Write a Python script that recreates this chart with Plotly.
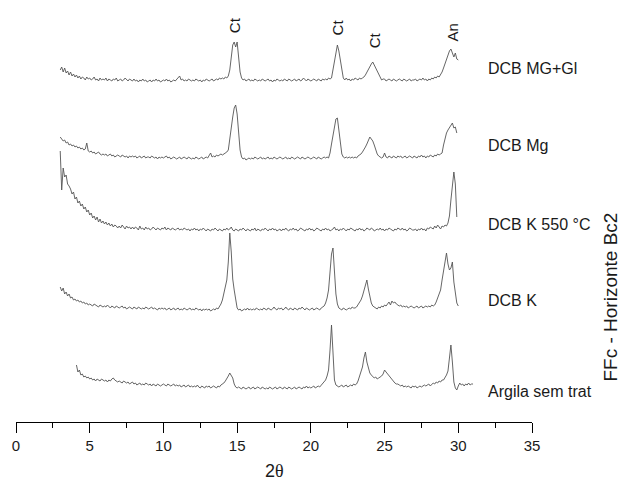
import numpy as np
import plotly.graph_objects as go

# 2-theta sampling: start angle and step (0.1 deg) for each pattern
step = 0.1
series_names = ["DCB MG+Gl", "DCB Mg", "DCB K 550 °C", "DCB K", "Argila sem trat"]
x_start = [3.0, 3.0, 3.0, 3.0, 4.1]

# intensities (arbitrary units, already vertically offset as in the figure)
mg_gl = [
    352, 355, 350, 354, 349, 351, 347, 350, 346, 348,
    345, 347, 344, 346, 343, 345, 344, 342, 345, 343,
    344, 342, 343, 345, 342, 343, 341, 344, 342, 343,
    342, 344, 341, 343, 342, 341, 343, 342, 344, 341,
    342, 343, 341, 342, 344, 342, 341, 343, 342, 341,
    343, 341, 342, 340, 342, 341, 343, 341, 342, 340,
    341, 342, 340, 342, 341, 343, 341, 342, 340, 341,
    342, 341, 343, 341, 342, 340, 341, 342, 341, 343,
    344, 346, 342, 343, 341, 342, 341, 343, 342, 341,
    342, 341, 343, 342, 341, 342, 340, 342, 341, 343,
    342, 341, 342, 343, 341, 342, 343, 342, 344, 343,
    344, 343, 345, 344, 346, 352, 366, 377, 380, 375,
    380, 362, 350, 344, 342, 343, 341, 342, 343, 341,
    342, 341, 343, 342, 341, 342, 341, 343, 342, 341,
    342, 343, 341, 342, 340, 342, 341, 343, 342, 341,
    342, 341, 343, 342, 341, 343, 342, 341, 342, 343,
    341, 342, 343, 341, 342, 344, 342, 341, 343, 342,
    341, 342, 343, 342, 341, 343, 342, 341, 343, 342,
    343, 342, 344, 343, 344, 352, 362, 372, 377, 371,
    362, 352, 344, 342, 344, 342, 343, 341, 343, 342,
    344, 343, 342, 344, 343, 344, 345, 347, 350, 352,
    355, 358, 360, 357, 354, 350, 347, 344, 342, 343,
    343, 341, 342, 343, 342, 341, 343, 342, 341, 342,
    343, 342, 341, 343, 342, 341, 342, 343, 341, 342,
    342, 343, 341, 342, 343, 342, 344, 342, 343, 341,
    343, 342, 344, 343, 345, 344, 346, 345, 347, 350,
    354, 358, 362, 368, 371, 373, 369, 365, 369, 363,
    362,
]

mg = [
    285, 283, 281, 282, 279, 280, 277, 278, 276, 277,
    275, 276, 274, 275, 273, 274, 272, 273, 279, 271,
    270, 271, 269, 270, 268, 269, 270, 268, 267, 268,
    267, 268, 266, 267, 268, 266, 267, 265, 266, 267,
    266, 265, 267, 266, 265, 266, 264, 266, 265, 266,
    265, 266, 264, 265, 266, 264, 265, 266, 264, 265,
    265, 264, 266, 265, 264, 265, 263, 265, 264, 265,
    264, 265, 266, 264, 265, 263, 264, 265, 264, 263,
    264, 265, 263, 264, 265, 264, 263, 265, 264, 263,
    264, 263, 265, 264, 263, 264, 265, 263, 264, 265,
    264, 266, 269, 265, 266, 265, 267, 266, 267, 268,
    267, 268, 269, 270, 272, 285, 295, 305, 314, 317,
    308, 288, 272, 265, 263, 264, 262, 263, 264, 263,
    264, 263, 265, 264, 263, 264, 265, 263, 264, 263,
    264, 265, 263, 264, 263, 265, 264, 263, 264, 265,
    264, 263, 264, 265, 263, 264, 263, 265, 264, 263,
    264, 265, 264, 263, 265, 264, 263, 264, 265, 264,
    263, 264, 265, 264, 263, 265, 264, 263, 264, 265,
    264, 265, 264, 269, 278, 288, 297, 303, 304, 291,
    278, 268, 265, 264, 265, 264, 265, 264, 265, 264,
    265, 264, 266, 267, 268, 270, 272, 275, 278, 281,
    285, 283, 281, 277, 272, 268, 266, 265, 264, 265,
    269, 265, 264, 266, 265, 264, 266, 265, 264, 266,
    265, 266, 264, 265, 266, 264, 265, 266, 265, 264,
    266, 265, 264, 266, 265, 267, 265, 266, 264, 266,
    265, 267, 266, 265, 267, 266, 268, 267, 268, 269,
    277, 284, 289, 292, 294, 296, 299, 294, 295, 289,
]

k550 = [
    271, 232, 254, 245, 247, 238, 236, 233, 228, 230,
    223, 225, 219, 221, 216, 218, 213, 215, 210, 212,
    207, 209, 204, 206, 202, 205, 200, 203, 199, 201,
    198, 200, 197, 199, 196, 198, 195, 197, 196, 194,
    196, 194, 197, 195, 193, 196, 194, 195, 193, 195,
    193, 195, 194, 192, 196, 193, 194, 192, 195, 193,
    194, 192, 193, 195, 193, 192, 194, 193, 192, 194,
    193, 195, 192, 194, 193, 192, 194, 193, 192, 193,
    194, 192, 193, 192, 194, 193, 192, 193, 191, 193,
    192, 194, 192, 193, 191, 193, 192, 194, 192, 191,
    193, 192, 191, 193, 192, 194, 192, 191, 193, 192,
    191, 193, 192, 194, 192, 193, 195, 192, 191, 193,
    192, 191, 193, 192, 194, 192, 191, 193, 192, 191,
    193, 192, 194, 191, 193, 192, 191, 193, 192, 194,
    192, 191, 193, 192, 194, 192, 193, 191, 192, 193,
    191, 193, 192, 194, 192, 191, 193, 192, 194, 192,
    193, 191, 192, 194, 193, 192, 191, 193, 192, 194,
    192, 193, 191, 192, 194, 193, 192, 191, 193, 192,
    194, 192, 193, 191, 192, 193, 195, 192, 193, 191,
    193, 192, 194, 192, 191, 193, 192, 194, 193, 192,
    191, 193, 192, 194, 192, 193, 191, 192, 194, 193,
    192, 194, 193, 191, 192, 193, 192, 194, 192, 193,
    191, 193, 192, 194, 193, 192, 191, 193, 192, 194,
    193, 192, 194, 192, 193, 191, 192, 194, 193, 192,
    192, 193, 191, 193, 192, 194, 192, 193, 191, 194,
    193, 195, 194, 193, 196, 194, 197, 195, 193, 196,
    195, 197, 196, 199, 206, 222, 240, 250, 238, 205,
]

k = [
    135, 131, 134, 128, 130, 126, 128, 124, 125, 122,
    123, 121, 122, 120, 121, 119, 120, 118, 119, 117,
    118, 117, 116, 118, 117, 116, 115, 117, 116, 115,
    116, 115, 117, 115, 114, 116, 115, 114, 116, 115,
    114, 115, 116, 114, 115, 113, 114, 115, 114, 113,
    115, 114, 113, 115, 114, 113, 114, 113, 115, 114,
    113, 114, 115, 113, 114, 113, 112, 114, 113, 114,
    113, 114, 112, 113, 114, 112, 113, 114, 112, 113,
    114, 112, 113, 112, 114, 113, 112, 113, 114, 112,
    113, 112, 114, 113, 112, 113, 111, 113, 112, 113,
    112, 113, 111, 112, 113, 112, 114, 113, 115, 118,
    122, 128, 135, 142, 160, 189, 170, 143, 132, 120,
    114, 112, 113, 111, 112, 113, 112, 114, 112, 113,
    112, 113, 112, 114, 113, 112, 113, 112, 114, 113,
    112, 114, 113, 112, 113, 115, 113, 112, 114, 113,
    114, 112, 113, 115, 113, 112, 114, 113, 112, 114,
    113, 112, 114, 113, 115, 113, 112, 114, 113, 112,
    113, 114, 112, 113, 114, 113, 112, 114, 115, 116,
    119, 124, 132, 155, 168, 174, 150, 128, 118, 114,
    113, 112, 114, 113, 112, 113, 114, 113, 115, 114,
    114, 115, 117, 119, 122, 126, 131, 136, 142, 133,
    126, 119, 116, 115, 114, 113, 115, 114, 116, 115,
    117, 116, 118, 120, 117, 121, 119, 120, 118, 117,
    116, 117, 115, 116, 115, 116, 114, 115, 116, 115,
    114, 115, 116, 114, 115, 116, 114, 115, 116, 115,
    116, 115, 117, 116, 117, 120, 124, 128, 132, 142,
    152, 164, 169, 158, 152, 154, 160, 140, 126, 119,
    116,
]

argila = [
    57, 50, 52, 47, 48, 45, 46, 44, 45,
    43, 44, 42, 43, 41, 43, 42, 41, 43, 42,
    41, 42, 40, 42, 41, 43, 44, 42, 41, 40,
    41, 40, 39, 41, 40, 39, 40, 38, 39, 40,
    38, 39, 37, 38, 39, 37, 38, 37, 39, 38,
    37, 38, 36, 38, 37, 36, 38, 37, 36, 37,
    38, 37, 36, 38, 37, 36, 37, 38, 36, 37,
    36, 37, 35, 36, 37, 35, 36, 37, 35, 36,
    35, 36, 35, 37, 35, 34, 36, 35, 34, 36,
    35, 36, 34, 35, 36, 35, 34, 36, 35, 37,
    38, 39, 41, 43, 46, 49, 47, 44, 38, 35,
    34, 35, 34, 33, 35, 34, 33, 34, 35, 33,
    34, 35, 33, 34, 35, 34, 33, 35, 34, 33,
    34, 33, 35, 34, 33, 34, 35, 33, 34, 35,
    34, 33, 35, 34, 33, 35, 34, 33, 34, 35,
    33, 34, 35, 34, 33, 35, 34, 36, 34, 35,
    34, 35, 36, 34, 35, 36, 35, 37, 38, 40,
    42, 46, 52, 72, 97, 70, 42, 37, 36, 35,
    36, 37, 35, 36, 37, 35, 36, 37, 36, 38,
    37, 38, 41, 45, 50, 55, 64, 70, 60, 54,
    49, 47, 45, 44, 45, 43, 44, 45, 46, 48,
    52, 50, 48, 47, 44, 42, 40, 39, 38, 38,
    37, 36, 37, 35, 36, 35, 36, 35, 34, 36,
    35, 36, 34, 35, 36, 35, 36, 37, 36, 37,
    38, 36, 38, 39, 38, 40, 39, 41, 40, 42,
    42, 44, 47, 51, 62, 77, 60, 40, 34, 32,
    36, 39, 37, 38, 36, 38, 37, 39, 37, 38,
    38,
]

series_values = [mg_gl, mg, k550, k, argila]

# peak labels (phase, 2-theta)
peak_labels = ["Ct", "Ct", "Ct", "An"]
peak_pos = [14.8, 21.8, 24.3, 29.6]
peak_label_y = [397, 395, 382, 390]

x_ticks = [0, 5, 10, 15, 20, 25, 30, 35]
side_title = "FFc - Horizonte Bc2"
x_title = "2<span style='font-family:Liberation Serif'>θ</span>"

FONT = "Liberation Sans, Arial, sans-serif"
TXT = "#1a1a1a"

fig = go.Figure()
for name, x0, vals in zip(series_names, x_start, series_values):
    xs = np.round(x0 + step * np.arange(len(vals)), 2)
    fig.add_trace(go.Scatter(x=xs, y=vals, mode="lines", name=name,
                             line=dict(color="#555555", width=0.9),
                             showlegend=False, hoverinfo="skip"))

# series labels at right of each pattern
label_x = 31.85
label_y = [354, 277, 198, 122, 31]
annotations = []
for name, ly in zip(series_names, label_y):
    annotations.append(dict(x=label_x, y=ly, xref="x", yref="y", text=name,
                            showarrow=False, xanchor="left", yanchor="middle",
                            font=dict(family=FONT, size=16, color=TXT)))
for lab, px, py in zip(peak_labels, peak_pos, peak_label_y):
    annotations.append(dict(x=px, y=py, xref="x", yref="y", text=lab,
                            showarrow=False, textangle=-90,
                            xanchor="center", yanchor="middle",
                            font=dict(family=FONT, size=15, color=TXT)))
annotations.append(dict(x=1.152, y=0.296, xref="paper", yref="paper", text=side_title,
                        showarrow=False, textangle=-90,
                        xanchor="center", yanchor="middle",
                        font=dict(family=FONT, size=19, color=TXT)))
annotations.append(dict(x=0.5, y=-0.116, xref="paper", yref="paper", text=x_title,
                        showarrow=False, xanchor="center", yanchor="middle",
                        font=dict(family=FONT, size=18, color=TXT)))

fig.update_layout(
    width=621, height=484,
    margin=dict(l=16, r=89, t=0, b=62),
    paper_bgcolor="white", plot_bgcolor="white",
    annotations=annotations,
    xaxis=dict(range=[0, 35], tickmode="array", tickvals=x_ticks,
               ticktext=[str(t) for t in x_ticks],
               ticks="outside", ticklen=10, tickwidth=1, tickcolor="black",
               showline=True, linecolor="black", linewidth=1,
               showgrid=False, zeroline=False,
               minor=dict(dtick=2.5, tick0=0, ticks="outside", ticklen=5,
                          tickwidth=1, tickcolor="black", showgrid=False),
               tickfont=dict(family=FONT, size=15, color=TXT)),
    yaxis=dict(range=[0, 422], visible=False, showgrid=False, zeroline=False),
)

# remove the page's default body margin so the figure sits at the window origin
fig.write_html("out.html", config={"displayModeBar": False},
               post_script="document.body.style.margin='0';"
                           "document.body.style.overflow='hidden';")
